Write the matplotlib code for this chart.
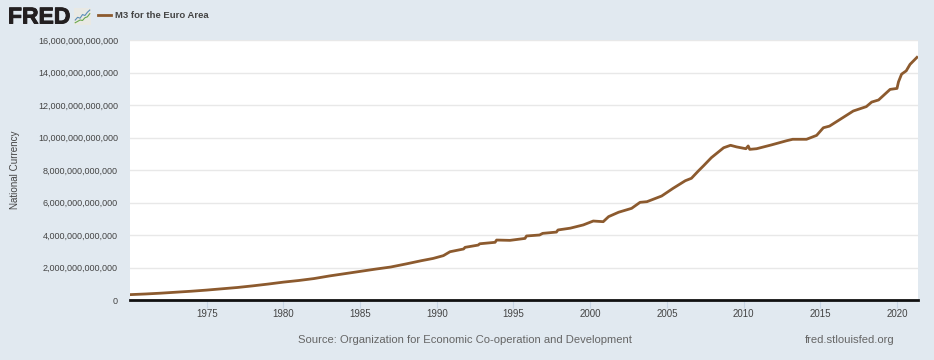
import matplotlib
matplotlib.use("Agg")
import matplotlib.pyplot as plt
import matplotlib.patheffects as pe
from matplotlib.ticker import FuncFormatter

# M3: decimal year, trillions of national currency
years = [1970.0, 1971.0, 1972.0, 1973.0, 1974.0, 1975.0, 1976.0, 1977.0,
         1978.0, 1979.0, 1980.0, 1981.0, 1982.0, 1983.0, 1984.0, 1985.0,
         1986.0, 1987.0, 1988.0, 1989.0, 1989.77, 1990.43, 1990.86, 1991.75,
         1991.84, 1992.7, 1992.8, 1993.8, 1993.9, 1994.77, 1995.75, 1995.85,
         1996.7, 1996.9, 1997.8, 1997.9, 1998.7, 1999.55, 2000.2, 2000.85,
         2001.2, 2001.85, 2002.7, 2003.25, 2003.7, 2004.66, 2005.4, 2006.2,
         2006.6, 2007.05, 2007.4, 2007.9, 2008.7, 2009.15, 2009.55, 2010.15,
         2010.3, 2010.4, 2010.85, 2011.8, 2012.8, 2013.2, 2014.1, 2014.76,
         2015.2, 2015.6, 2016.5, 2017.15, 2018.0, 2018.35, 2018.8, 2019.55,
         2020.0, 2020.1, 2020.3, 2020.6, 2020.85, 2021.3]
m3_trillions = [0.33, 0.37, 0.42, 0.48, 0.54, 0.61, 0.69, 0.77,
                0.87, 0.98, 1.10, 1.20, 1.32, 1.48, 1.62, 1.76,
                1.90, 2.03, 2.22, 2.42, 2.56, 2.73, 2.97, 3.14,
                3.24, 3.38, 3.46, 3.55, 3.69, 3.67, 3.79, 3.94,
                4.00, 4.10, 4.18, 4.31, 4.42, 4.62, 4.86, 4.82,
                5.13, 5.40, 5.64, 6.01, 6.05, 6.40, 6.87, 7.34,
                7.49, 7.94, 8.27, 8.76, 9.37, 9.52, 9.42, 9.31,
                9.48, 9.27, 9.31, 9.54, 9.80, 9.89, 9.89, 10.13,
                10.60, 10.70, 11.24, 11.63, 11.90, 12.18, 12.31, 12.96,
                13.02, 13.43, 13.90, 14.10, 14.50, 14.93]

y_ticks = [0, 2, 4, 6, 8, 10, 12, 14, 16]
x_ticks = [1975, 1980, 1985, 1990, 1995, 2000, 2005, 2010, 2015, 2020]

# small logo sparklines
icon_x = [0, 1, 2, 3, 4, 5, 6]
icon_blue = [2.2, 3.4, 3.0, 4.6, 4.2, 5.6, 6.6]
icon_green = [1.0, 1.6, 2.2, 2.0, 3.2, 3.6, 5.0]

BG = "#e1e9f0"
TEXT = "#444444"
LINE = "#8c5a2e"

plt.rcParams["font.family"] = ["Liberation Sans", "DejaVu Sans"]

fig = plt.figure(figsize=(9.34, 3.6), dpi=100, facecolor=BG)
ax = fig.add_axes([130 / 934, 60 / 360, 788 / 934, 260 / 360], facecolor="white")

line, = ax.plot(years, m3_trillions, color=LINE, lw=2.0, label="M3 for the Euro Area",
                solid_joinstyle="round", zorder=3)

ax.set_xlim(1970.0, 2021.37)
ax.set_ylim(0, 16)
ax.set_yticks(y_ticks)
ax.set_xticks(x_ticks)
ax.yaxis.set_major_formatter(FuncFormatter(lambda v, p: f"{int(v * 1e12):,}"))
ax.grid(axis="y", color="#e8e8e8", lw=1)
ax.set_axisbelow(True)

for side in ["top", "left", "right"]:
    ax.spines[side].set_visible(False)
ax.spines["bottom"].set_color("#111111")
ax.spines["bottom"].set_linewidth(2.0)
ax.spines["bottom"].set_zorder(4)

ax.tick_params(axis="y", length=0, pad=8.6, labelsize=6.5, labelcolor=TEXT)
ax.tick_params(axis="x", length=6, width=0.8, color="#c8d6e5", pad=0.8,
               labelsize=7.0, labelcolor=TEXT)

fig.text(15 / 934, 1 - 169.5 / 360, "National Currency", rotation=90, ha="center",
         va="center", fontsize=7.1, color=TEXT)

# legend sits in the header, next to the logo
fig.legend(handles=[line], loc="center left", bbox_to_anchor=(98 / 934, 1 - 16 / 360),
           frameon=False, handlelength=1.38, handletextpad=0.42, borderpad=0, borderaxespad=0,
           prop={"size": 6.8, "weight": "bold"}, labelcolor=TEXT)

fig.text(8 / 934, 1 - 17 / 360, "FRED", fontsize=16.5, fontweight="bold", color="#231f20",
         ha="left", va="center",
         path_effects=[pe.withStroke(linewidth=0.7, foreground="#231f20")])

icon = fig.add_axes([74 / 934, 1 - 25 / 360, 17 / 934, 17 / 360], facecolor="#e9e9e4")
icon.plot(icon_x, icon_blue, color="#5b8db8", lw=0.8)
icon.plot(icon_x, icon_green, color="#6aa84f", lw=0.8)
icon.set_xlim(-0.5, 6.5)
icon.set_ylim(0, 7.5)
icon.set_xticks([])
icon.set_yticks([])
for side in icon.spines:
    icon.spines[side].set_visible(False)

fig.text(465 / 934, 1 - 340 / 360, "Source: Organization for Economic Co-operation and Development",
         ha="center", va="center", fontsize=8.1, color="#666666")
fig.text(849.5 / 934, 1 - 340 / 360, "fred.stlouisfed.org", ha="center", va="center",
         fontsize=8.1, color="#666666")

fig.savefig("out.png", dpi=100, facecolor=BG)
